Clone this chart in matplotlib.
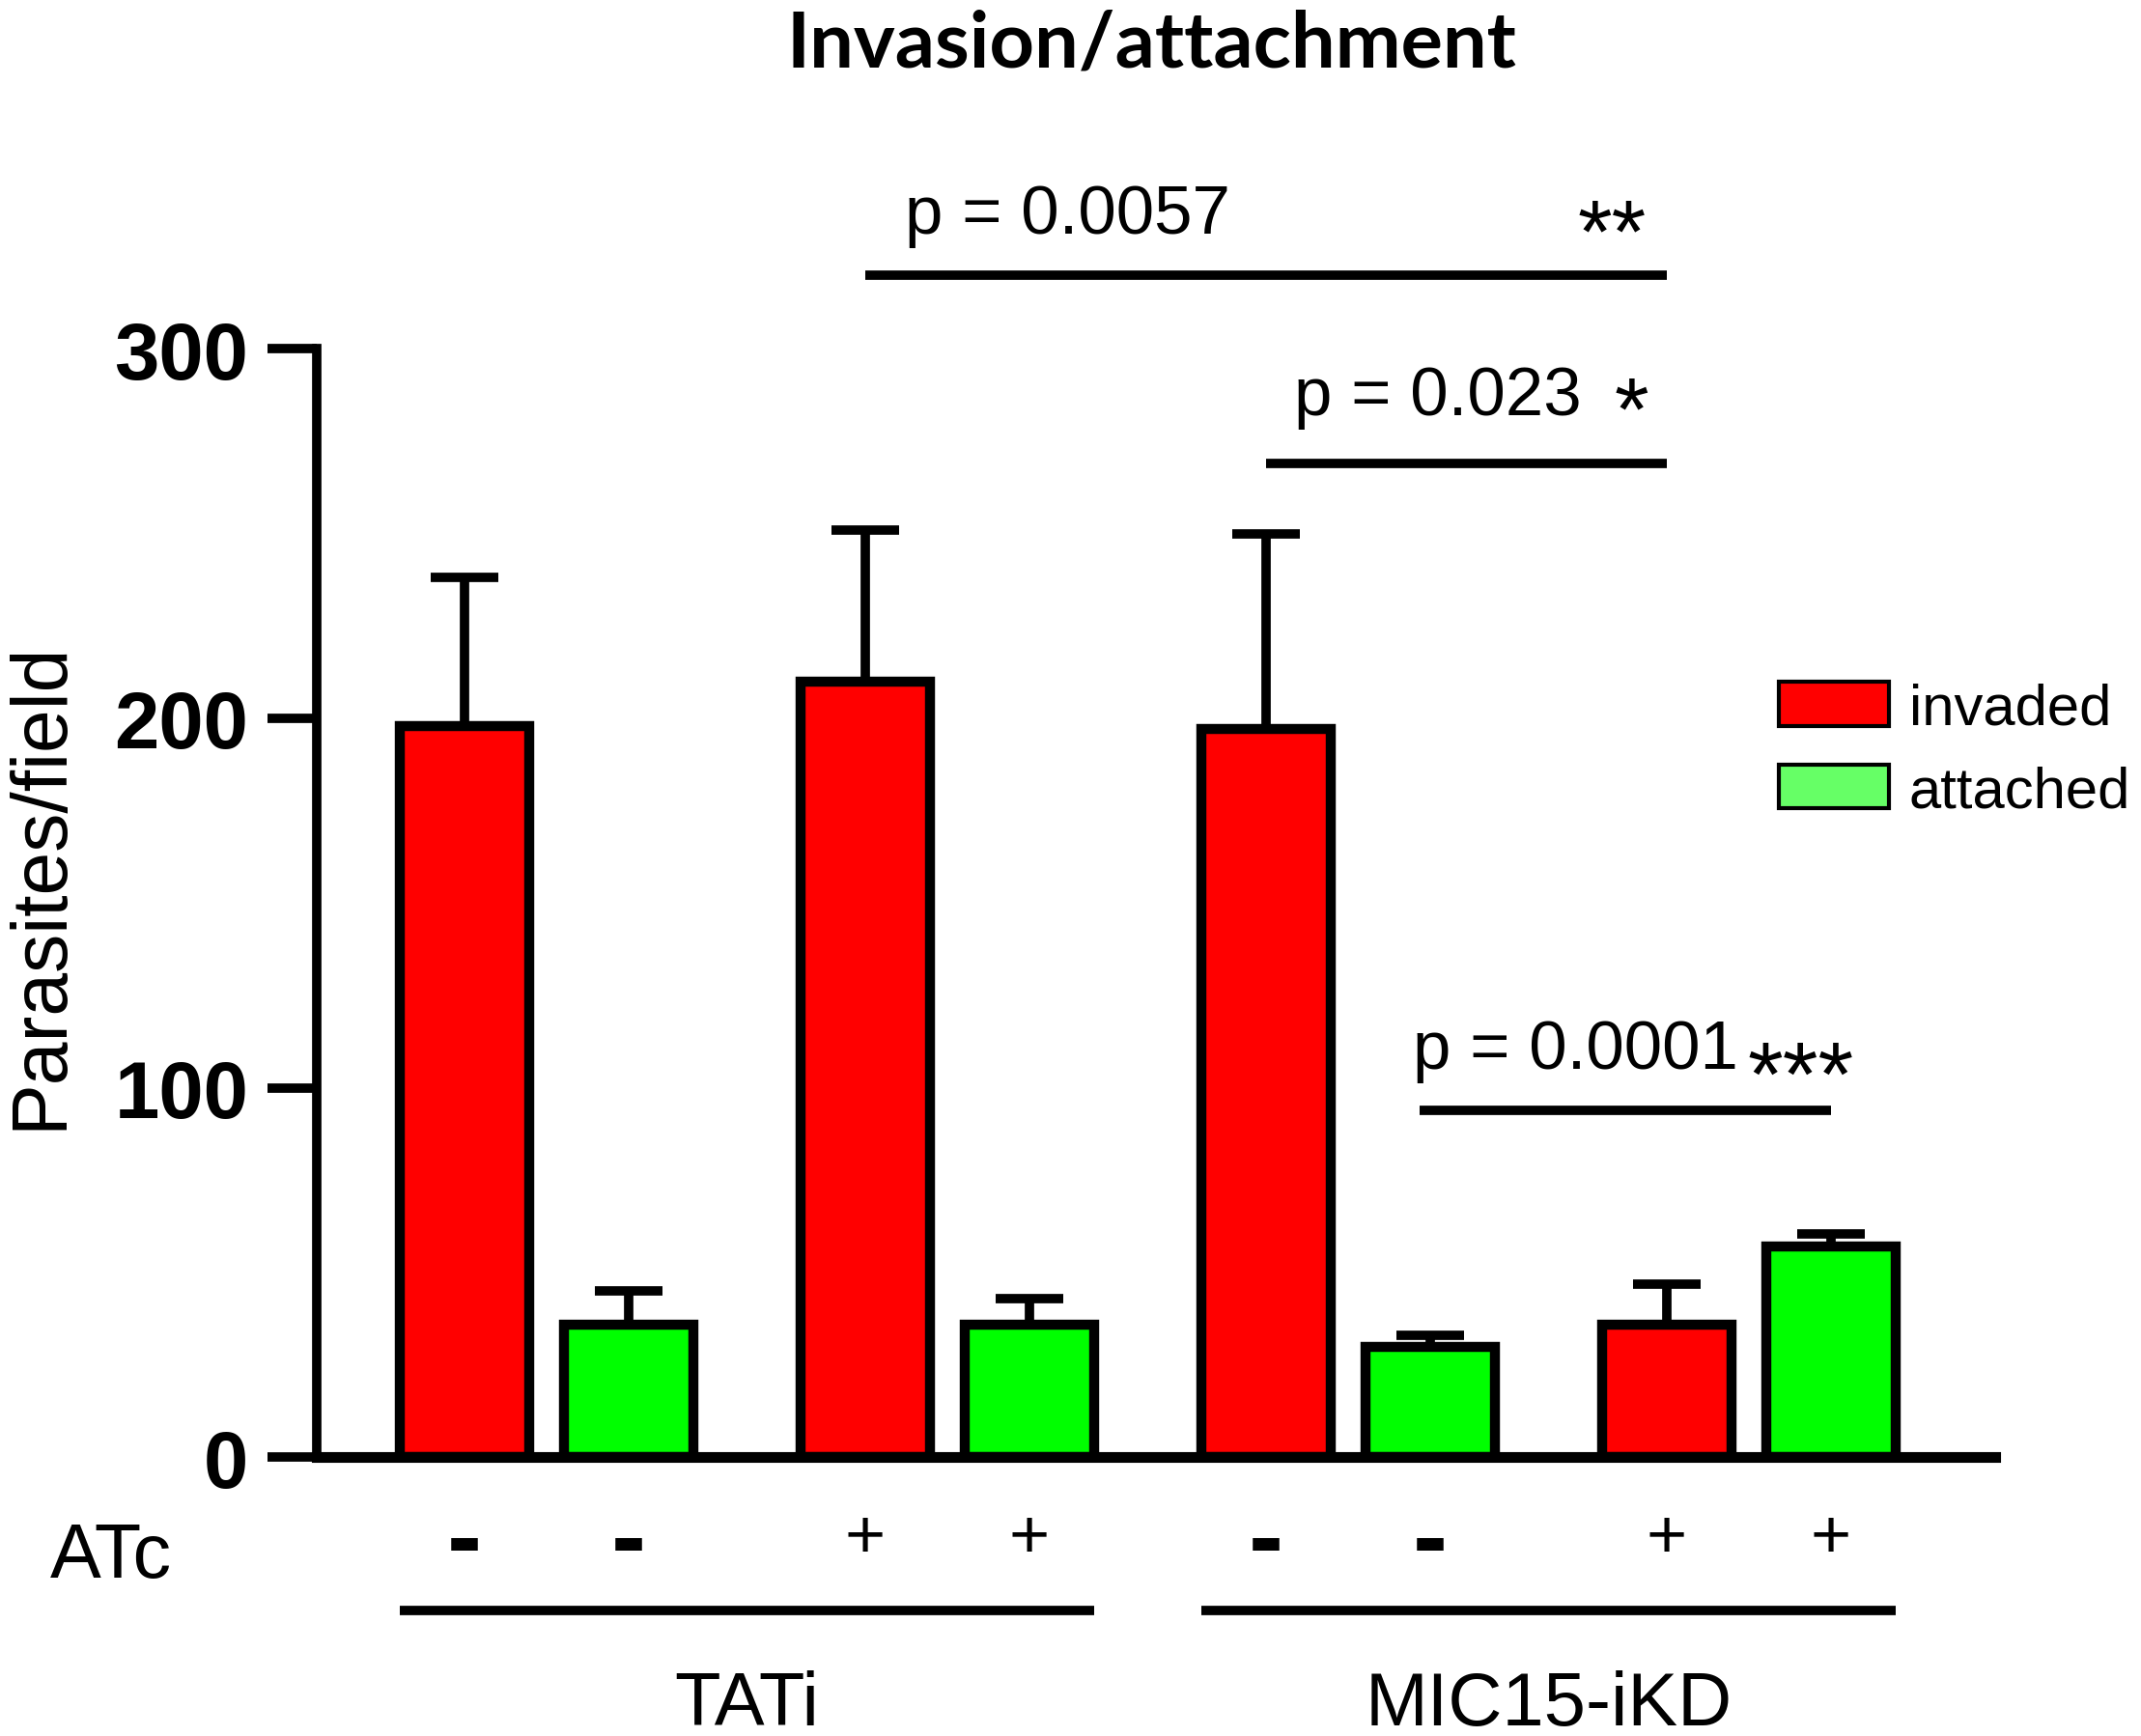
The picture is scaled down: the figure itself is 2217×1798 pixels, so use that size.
import numpy as np
import matplotlib
matplotlib.use("Agg")
import matplotlib.pyplot as plt
from matplotlib.patches import Patch

plt.rcParams['font.family'] = ['Liberation Sans', 'DejaVu Sans']

# data (mean and upper SD)
conditions = ["TATi -", "TATi -", "TATi +", "TATi +", "MIC15 -", "MIC15 -", "MIC15 +", "MIC15 +"]
series = ["invaded", "attached"] * 4
means = [198, 36, 210, 36, 197, 30, 36, 57]
sds = [40, 9, 41, 7, 53, 3, 11, 3.5]
atc = ["-", "-", "+", "+", "-", "-", "+", "+"]
groups = ["TATi", "MIC15-iKD"]
# comparisons: (bar i, bar j, line height)
comparisons = [
    (2, 6, 320),
    (4, 6, 269),
    (5, 7, 94),
]

colors = {"invaded": "#ff0000", "attached": "#00ff00"}
legend_colors = {"invaded": "#ff0000", "attached": "#66ff66"}

pair_step = 2.937
inner_step = 1.205
x = np.array([(i // 2) * pair_step + (i % 2) * inner_step for i in range(len(means))])
w = 0.95

fig = plt.figure(figsize=(22.17, 17.99), dpi=100)
ax = fig.add_axes([0.148, 0.1604, 0.784, 0.6383])

ax.errorbar(x, means, yerr=[np.zeros(len(sds)), sds], fmt='none', ecolor='black',
            elinewidth=7, capsize=25, capthick=7, zorder=1)
ax.bar(x, means, width=w, color=[colors[s] for s in series], edgecolor='black',
       linewidth=7.5, zorder=2)

ax.set_xlim(-1.08, 11.22)
ax.set_ylim(0, 300)
ax.set_yticks([0, 100, 200, 300])
ax.tick_params(axis='y', length=37, width=7, pad=14, labelsize=60)
for lab in ax.get_yticklabels():
    lab.set_fontweight('bold')
ax.set_xticks([])
for s in ['top', 'right']:
    ax.spines[s].set_visible(False)
ax.spines['left'].set_linewidth(7)
ax.spines['bottom'].set_linewidth(8)
ax.spines['left'].set_capstyle('projecting')

# significance bars
for i, j, yl in comparisons:
    x0, x1 = x[i], x[j]
    if i == 5:
        x0 -= 0.08
    ax.plot([x0, x1], [yl, yl], color='black', lw=7, clip_on=False,
            solid_capstyle='butt')
ax.text(3.23, 336, "p = 0.0057", fontsize=51, ha='left', va='center')
ax.text(8.66, 330, "**", fontsize=66, ha='right', va='center')
ax.text(6.08, 287, "p = 0.023", fontsize=51, ha='left', va='center')
ax.text(8.68, 282, "*", fontsize=66, ha='right', va='center')
ax.text(6.95, 110, "p = 0.0001", fontsize=51, ha='left', va='center')
ax.text(9.40, 102, "***", fontsize=68, ha='left', va='center')

# ATc row
for xi, sign in zip(x, atc):
    if sign == "+":
        ax.text(xi, -22, sign, fontsize=52, ha='center', va='center', clip_on=False)
    else:
        ax.text(xi, -23.5, sign, fontsize=78, fontweight='bold', ha='center',
                va='center', clip_on=False)
ax.text(-2.59, -27, "ATc", fontsize=57, ha='center', va='center', clip_on=False)

# group lines and labels
for g, name in enumerate(groups):
    x0 = x[4 * g] - w / 2
    x1 = x[4 * g + 3] + w / 2
    ax.plot([x0, x1], [-41.4, -41.4], color='black', lw=7, clip_on=False,
            solid_capstyle='butt')
    ax.text((x0 + x1) / 2, -67, name, fontsize=56, ha='center', va='center',
            clip_on=False)

fig.text(0.019, 0.490, "Parasites/field", fontsize=58, rotation=90,
         ha='center', va='center')
fig.text(0.538, 0.974, "Invasion/attachment", fontsize=58.5, fontweight='bold',
         family=['Lato', 'DejaVu Sans'], ha='center', va='center')

handles = [Patch(facecolor=legend_colors[k], edgecolor='black', linewidth=3, label=k)
           for k in ["invaded", "attached"]]
fig.legend(handles=handles, loc='upper left', bbox_to_anchor=(0.8175, 0.6235),
           frameon=False, fontsize=43, handlelength=1.9, handleheight=0.8,
           handletextpad=0.35, labelspacing=0.5, borderpad=0)

fig.savefig("out.png", dpi=100)
